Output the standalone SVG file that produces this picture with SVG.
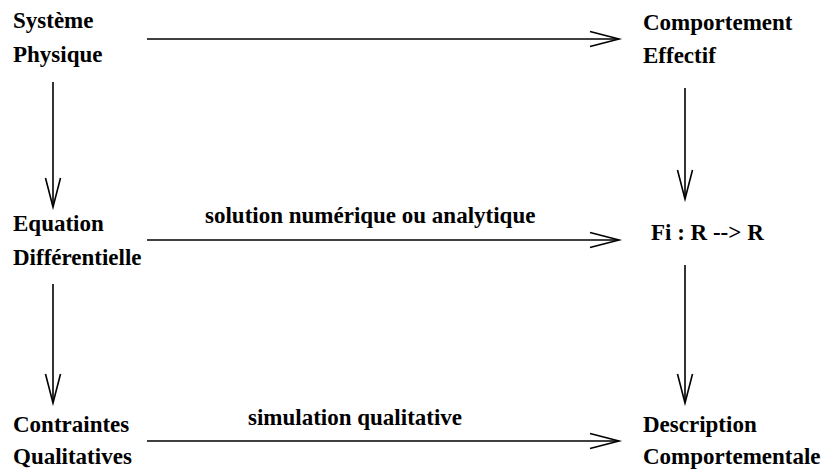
<svg xmlns="http://www.w3.org/2000/svg" width="826" height="469" viewBox="0 0 826 469">
<style>
text{font-family:"Liberation Serif","Times New Roman",serif;font-weight:bold;font-size:23px;fill:#000}
.c{stroke:#000;stroke-width:1.6;fill:none}
</style>
<defs>
<marker id="ah" markerUnits="userSpaceOnUse" markerWidth="40" markerHeight="20" viewBox="-32 -10 34 20" refX="0" refY="0" orient="auto" overflow="visible">
<path d="M-29,-7.5 L0,0 L-29,7.5" fill="none" stroke="#000" stroke-width="1.6"/>
</marker>
</defs>
<rect width="826" height="469" fill="#fff"/>
<g id="connectors">
<line class="c" x1="147" y1="39" x2="619" y2="39" marker-end="url(#ah)"/>
<line class="c" x1="147" y1="240" x2="619" y2="240" marker-end="url(#ah)"/>
<line class="c" x1="147" y1="441" x2="619" y2="441" marker-end="url(#ah)"/>
<line class="c" x1="53" y1="82" x2="53" y2="207" marker-end="url(#ah)"/>
<line class="c" x1="53" y1="284" x2="53" y2="403" marker-end="url(#ah)"/>
<line class="c" x1="685" y1="88" x2="685" y2="199" marker-end="url(#ah)"/>
<line class="c" x1="685" y1="265" x2="685" y2="403" marker-end="url(#ah)"/>
<text x="205" y="223">solution numérique ou analytique</text>
<text x="248" y="425">simulation qualitative</text>
</g>
<g id="systeme-physique"><text x="13" y="28">Système</text><text x="13" y="62">Physique</text></g>
<g id="comportement-effectif"><text x="643" y="30">Comportement</text><text x="643" y="63">Effectif</text></g>
<g id="equation-differentielle"><text x="13" y="231">Equation</text><text x="13" y="265">Différentielle</text></g>
<g id="fi"><text x="651" y="240">Fi : R --&gt; R</text></g>
<g id="contraintes-qualitatives"><text x="13" y="432">Contraintes</text><text x="13" y="464">Qualitatives</text></g>
<g id="description-comportementale"><text x="643" y="432">Description</text><text x="643" y="464">Comportementale</text></g>
</svg>
